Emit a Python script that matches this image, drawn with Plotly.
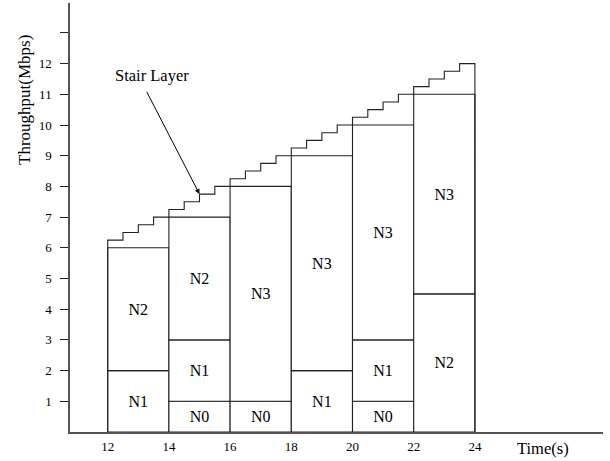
import plotly.graph_objects as go

# ---- data ----
seg_start = [12, 12, 14, 14, 14, 16, 16, 18, 18, 20, 20, 20, 22, 22]
seg_layer = ["N1", "N2", "N0", "N1", "N2", "N0", "N3", "N1", "N3", "N0", "N1", "N3", "N2", "N3"]
seg_low = [0, 2, 0, 1, 3, 0, 1, 0, 2, 0, 1, 3, 0, 4.5]
seg_high = [2, 6, 1, 3, 7, 1, 8, 2, 9, 1, 3, 10, 4.5, 11]
block_len = 2

stair_time = [12, 12.5, 13, 13.5, 14, 14.5, 15, 15.5, 16, 16.5, 17, 17.5,
              18, 18.5, 19, 19.5, 20, 20.5, 21, 21.5, 22, 22.5, 23, 23.5]
stair_rate = [6.25, 6.5, 6.75, 7.0, 7.25, 7.5, 7.75, 8.0, 8.25, 8.5, 8.75, 9.0,
              9.25, 9.5, 9.75, 10.0, 10.25, 10.5, 10.75, 11.0, 11.25, 11.5, 11.75, 12.0]
stair_end = 24

x_ticks = [12, 14, 16, 18, 20, 22, 24]
x_ticktext = ["12", "14", "16", "18", "20", "22", "24"]
y_ticks = [1, 2, 3, 4, 5, 6, 7, 8, 9, 10, 11, 12, 13]
y_ticktext = ["1", "2", "3", "4", "5", "6", "7", "8", "9", "10", "11", "12", ""]

arrow_head = (15, 7.75)
arrow_tail = (13.25, 11.13)
arrow_label = (13.46, 11.6)

FONT = "Liberation Serif"
LINE = "#222222"

fig = go.Figure()

fig.add_trace(go.Bar(
    x=seg_start,
    base=seg_low,
    y=[h - l for h, l in zip(seg_high, seg_low)],
    width=block_len,
    offset=0,
    text=seg_layer,
    textposition="inside",
    insidetextanchor="middle",
    textangle=0,
    textfont=dict(family=FONT, size=16, color="black"),
    marker=dict(color="white", line=dict(color=LINE, width=1.1)),
    hoverinfo="skip",
    showlegend=False,
))

sx = [stair_time[0]] + stair_time + [stair_end, stair_end]
sy = [0] + stair_rate + [stair_rate[-1], 0]
fig.add_trace(go.Scatter(
    x=sx, y=sy, mode="lines", line=dict(shape="hv", color=LINE, width=1.1),
    hoverinfo="skip", showlegend=False,
))

x0 = 10.768
x1 = x0 + 533 / 30.6
y1 = 429 / 30.7

fig.update_layout(
    width=610, height=461,
    margin=dict(l=70, r=7, t=3, b=29),
    paper_bgcolor="white", plot_bgcolor="white",
    barmode="overlay",
    uniformtext=dict(minsize=16, mode="show"),
    xaxis=dict(
        range=[x0, x1], showgrid=False, zeroline=False,
        showline=True, linecolor="#555555", linewidth=1.5,
        tickmode="array", tickvals=x_ticks, ticktext=x_ticktext,
        ticks="", tickfont=dict(family=FONT, size=13, color="black"),
        ticklabelstandoff=2,
    ),
    yaxis=dict(
        range=[0, y1], showgrid=False, zeroline=False,
        showline=True, linecolor="#555555", linewidth=1.5,
        tickmode="array", tickvals=y_ticks, ticktext=y_ticktext,
        ticks="outside", ticklen=8, tickwidth=1.2, tickcolor=LINE,
        tickfont=dict(family=FONT, size=13, color="black"),
        ticklabelstandoff=6,
    ),
    yaxis2=dict(
        range=[0, y1], overlaying="y", side="left", anchor="x",
        showgrid=False, zeroline=False, showline=False,
        tickmode="array", tickvals=y_ticks, showticklabels=False,
        ticks="inside", ticklen=7, tickwidth=1.2, tickcolor=LINE,
    ),
    annotations=[
        dict(x=arrow_head[0], y=arrow_head[1], xref="x", yref="y",
             ax=arrow_tail[0], ay=arrow_tail[1], axref="x", ayref="y",
             text="", showarrow=True, arrowhead=2, arrowsize=1, arrowwidth=1,
             arrowcolor="black"),
        dict(x=arrow_label[0], y=arrow_label[1], xref="x", yref="y",
             text="Stair Layer", showarrow=False,
             font=dict(family=FONT, size=16.5, color="black")),
        dict(x=(543 - 70) / 533, y=(432 - 448) / 429, xref="paper", yref="paper",
             text="Time(s)", showarrow=False, xanchor="center", yanchor="middle",
             font=dict(family=FONT, size=16.5, color="black")),
        dict(x=(24 - 70) / 533, y=(432 - 100) / 429, xref="paper", yref="paper",
             text="Throughput(Mbps)", showarrow=False, textangle=-90,
             xanchor="center", yanchor="middle",
             font=dict(family=FONT, size=17, color="black")),
    ],
)

fig.write_html("out.html", config={"displayModeBar": False},
               post_script="document.body.style.margin='0';document.body.style.padding='0';")
